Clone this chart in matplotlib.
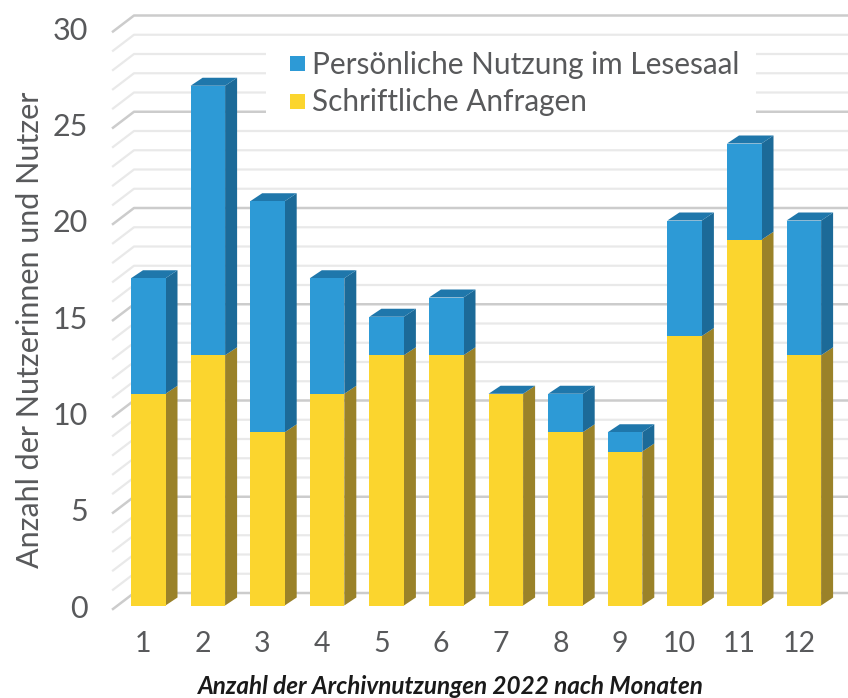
import matplotlib
matplotlib.use('Agg')
import matplotlib.pyplot as plt
from matplotlib.patches import Polygon, Rectangle

months = ['1', '2', '3', '4', '5', '6', '7', '8', '9', '10', '11', '12']
written = [11, 13, 9, 11, 13, 13, 11, 9, 8, 14, 19, 13]
reading_room = [6, 14, 12, 6, 2, 3, 0, 2, 1, 6, 5, 7]
y_ticks = [0, 5, 10, 15, 20, 25, 30]
minor_ticks = [1, 2, 3, 4, 6, 7, 8, 9, 11, 12, 13, 14, 16, 17, 18, 19, 21, 22, 23, 24, 26, 27, 28, 29]

YELLOW = '#fbd52e'
YELLOW_SIDE = '#9a8229'
BLUE = '#2d9ad6'
BLUE_SIDE = '#1c6a98'
BLUE_TOP = '#1f77ab'
TEXT = '#58595b'

plt.rcParams['font.family'] = ['Lato', 'DejaVu Sans']

fig = plt.figure(figsize=(8.48, 6.98), dpi=100)
ax = fig.add_axes([0, 0, 1, 1])
ax.set_xlim(0, 848)
ax.set_ylim(698, 0)
ax.axis('off')

# pixel mapping of the fake 3d chart
y0 = 605.5
unit = (605.5 - 28.0) / 30
dx = 12
dy = 8
step = 59.6
left = 131
bar_w = 34.5


def ypos(v):
    return y0 - v * unit


# gridlines with the little slanted part on the left
for v in minor_ticks:
    y = ypos(v)
    ax.plot([113, 134, 848], [y + 3.5, y - 12.5, y - 12.5], color='#e9e9e9', lw=1.6, zorder=1)
for v in y_ticks:
    y = ypos(v)
    ax.plot([113, 134, 848], [y + 3.5, y - 12.5, y - 12.5], color='#cccccc', lw=1.8, zorder=1)
    ax.text(88, y + 3, str(v), ha='right', va='center', fontsize=22, color=TEXT)


def draw_segment(x, bottom, top, face, side, top_color=None):
    yb, yt = ypos(bottom), ypos(top)
    ax.add_patch(Polygon([(x + bar_w, yb), (x + bar_w + dx, yb - dy), (x + bar_w + dx, yt - dy), (x + bar_w, yt)],
                         color=side, lw=0, zorder=3))
    if top_color:
        ax.add_patch(Polygon([(x, yt), (x + dx, yt - dy), (x + bar_w + dx, yt - dy), (x + bar_w, yt)],
                             color=top_color, lw=0, zorder=3))
    ax.add_patch(Rectangle((x, yt), bar_w, yb - yt, color=face, lw=0, zorder=4))


for i, m in enumerate(months):
    x = left + i * step
    draw_segment(x, 0, written[i], YELLOW, YELLOW_SIDE)
    draw_segment(x, written[i], written[i] + reading_room[i], BLUE, BLUE_SIDE, BLUE_TOP)
    ax.text(x + bar_w / 2 - 5, 644, m, ha='center', va='center', fontsize=20.5, color=TEXT)

# legend on white background
ax.add_patch(Rectangle((266, 42), 490, 78, color='white', lw=0, zorder=5))
ax.add_patch(Rectangle((290, 56), 15, 15, color=BLUE, lw=0, zorder=6))
ax.add_patch(Rectangle((290, 94), 15, 15, color=YELLOW, lw=0, zorder=6))
ax.text(312, 65, 'Persönliche Nutzung im Lesesaal', va='center', fontsize=21.4, color=TEXT, zorder=6)
ax.text(312, 102, 'Schriftliche Anfragen', va='center', fontsize=21.4, color=TEXT, zorder=6)

ax.text(30, 330, 'Anzahl der Nutzerinnen und Nutzer', rotation=90, ha='center', va='center',
        fontsize=22, color=TEXT)
ax.text(451, 687, 'Anzahl der Archivnutzungen 2022 nach Monaten', ha='center', va='center',
        fontsize=17.5, fontweight='bold', fontstyle='italic', color='#1a1a1a')

fig.savefig('out.png', dpi=100)
